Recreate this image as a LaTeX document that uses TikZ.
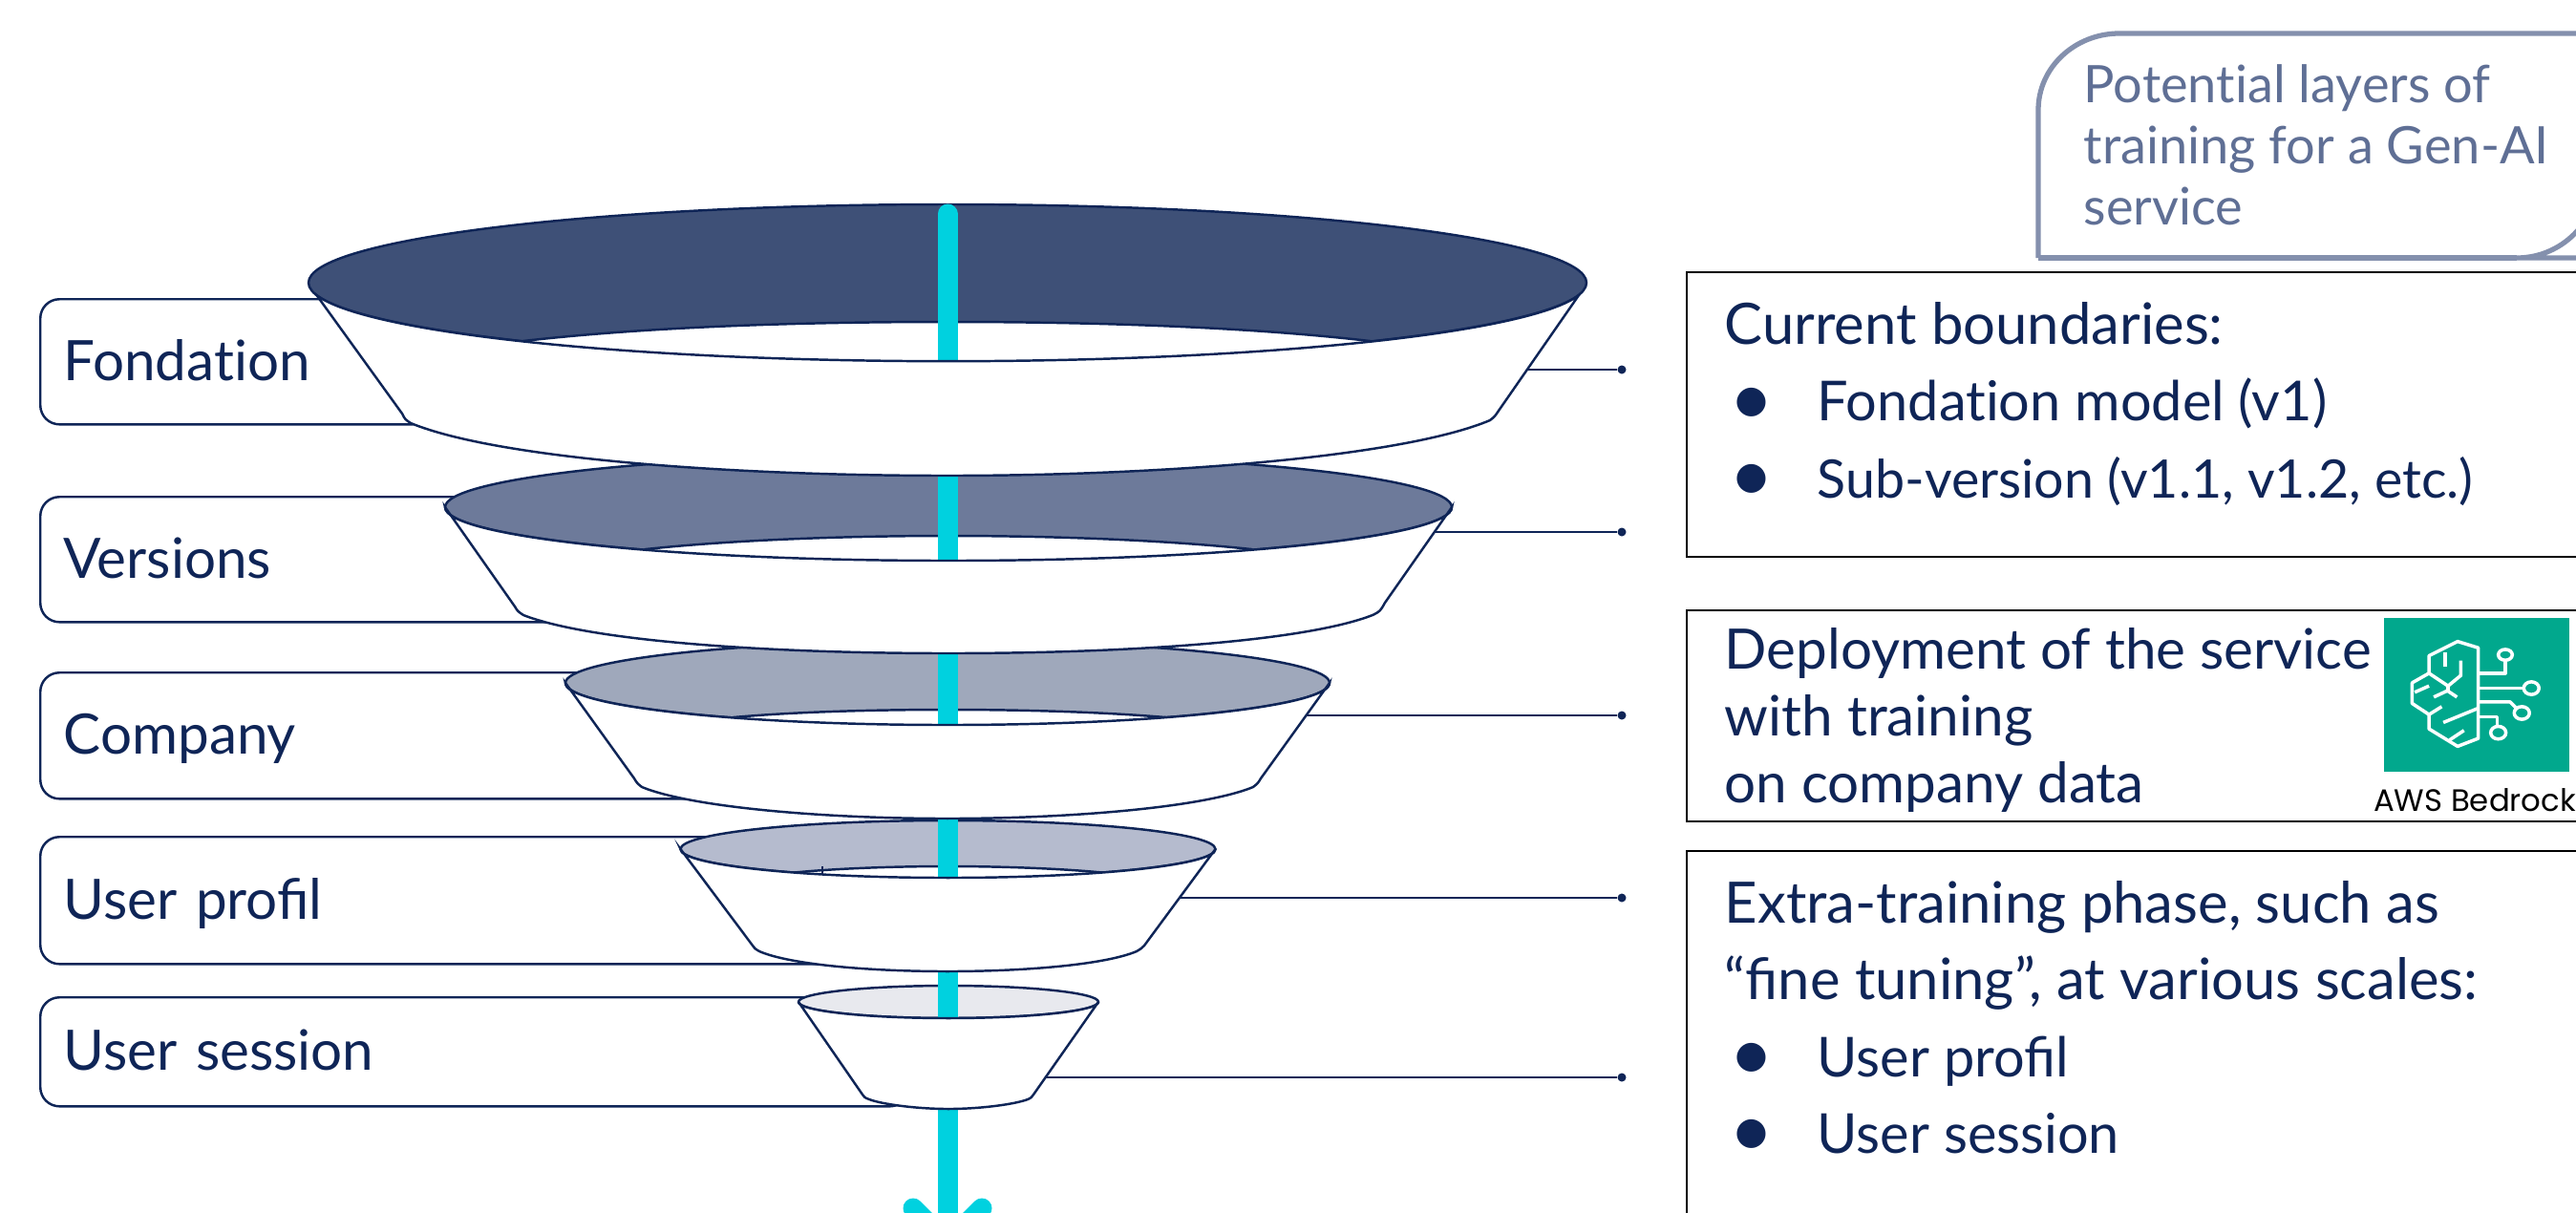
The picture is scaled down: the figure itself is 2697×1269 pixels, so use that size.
\documentclass[tikz,border=0pt]{standalone}
\usepackage{fontspec}
\setmainfont{Lato}
\newfontfamily\awsfont{Poppins}
\definecolor{navy}{HTML}{0F2557}
\definecolor{layerA}{HTML}{3E5077}
\definecolor{layerB}{HTML}{6D7A9A}
\definecolor{layerC}{HTML}{9FA8BB}
\definecolor{layerD}{HTML}{B5BBCE}
\definecolor{layerE}{HTML}{E8E9EE}
\definecolor{flow}{HTML}{00D1DF}
\definecolor{greyline}{HTML}{8490AD}
\definecolor{greytext}{HTML}{5F6F95}
\definecolor{bedrock}{HTML}{01A88D}
\tikzset{
	rim/.style={draw=navy, line width=0.7pt},
	label/.style={draw=navy, line width=0.7pt, rounded corners=0.2cm, anchor=north west, inner sep=0pt, text=navy, align=left, text height=11pt, text depth=0pt, font=\fontsize{16.6}{22.8}\selectfont},
	link/.style={draw=navy, line width=0.7pt},
	dot/.style={circle, fill=navy, inner sep=0pt, minimum size=0.09cm},
	frame/.style={draw=black, line width=0.6pt, anchor=north west, inner sep=0pt},
	words/.style={text=navy, anchor=north west, inner sep=0pt, align=left, font=\fontsize{17}{22.8}\selectfont},
	flowline/.style={draw=flow, line width=0.21cm, line cap=round},
}
\newcommand{\bulletline}[1]{{\fontsize{16.4}{22.8}\selectfont\hspace*{0.05cm}\makebox[0.92cm][l]{\raisebox{-0.045cm}{\fontsize{23}{23}\selectfont\textbullet}}#1}}
\begin{document}
\begin{tikzpicture}[x=0.01cm, y=-0.01cm]
		\useasboundingbox (0,0) rectangle (2697,1269);
		\clip (0,0) rectangle (2697,1269);

		% labels on the left
		\node[label, minimum width=4.09cm, minimum height=1.31cm, text width=3.6cm] (fondation) at (41,312) {Fondat\kern0pt ion};
		\node[label, minimum width=5.79cm, minimum height=1.31cm, text width=5.3cm] (versions) at (41,519) {Versions};
		\node[label, minimum width=7.19cm, minimum height=1.32cm, text width=6.7cm] (company) at (41,703) {Company};
		\node[label, minimum width=8.39cm, minimum height=1.33cm, text width=7.9cm] (profil) at (41,875) {User profil};
		\node[label, minimum width=9.09cm, minimum height=1.14cm, text width=8.6cm] (session) at (41,1043) {User session};

		% open tops
		\filldraw[rim, fill=layerA] (992,296) ellipse [x radius=669, y radius=82];
		\filldraw[rim, fill=layerB] (993,531) ellipse [x radius=527, y radius=56];
		\filldraw[rim, fill=layerC] (992,715) ellipse [x radius=400, y radius=44];
		\filldraw[rim, fill=layerD] (992.5,889) ellipse [x radius=280, y radius=30];
		\filldraw[rim, fill=layerE] (993,1049) ellipse [x radius=157, y radius=17];

		\filldraw[rim, fill=white] (548,357) .. controls (680,342) and (840,337) .. (992,337) .. controls (1144,337) and (1304,342) .. (1434,357) -- (1434,385) -- (548,385) -- cycle;
		\filldraw[rim, fill=white] (676,575) .. controls (770,565) and (890,561) .. (993,561) .. controls (1096,561) and (1216,565) .. (1310,575) -- (1310,595) -- (676,595) -- cycle;
		\filldraw[rim, fill=white] (768,751) .. controls (835,745) and (920,743) .. (992,743) .. controls (1064,743) and (1149,745) .. (1220,751) -- (1220,765) -- (768,765) -- cycle;
		\filldraw[rim, fill=white] (827,914) .. controls (875,909) and (940,907) .. (992,907) .. controls (1044,907) and (1109,909) .. (1159,914) -- (1159,925) -- (827,925) -- cycle;
		\draw[rim] (861,907) -- (861,917);

		% links to the dots
		\node[dot] (dotA) at (1698,387) {};
		\node[dot] (dotB) at (1698,557) {};
		\node[dot] (dotC) at (1698,749) {};
		\node[dot] (dotD) at (1698,940) {};
		\node[dot] (dotE) at (1698,1128) {};
		\coordinate (edgeA) at (1590,387);
		\coordinate (edgeB) at (1498,557);
		\coordinate (edgeC) at (1365,749);
		\coordinate (edgeD) at (1230,940);
		\coordinate (edgeE) at (1090,1128);
		\draw[link] (edgeA) -- (dotA);
		\draw[link] (edgeB) -- (dotB);
		\draw[link] (edgeC) -- (dotC);
		\draw[link] (edgeD) -- (dotD);
		\draw[link] (edgeE) -- (dotE);

		% flow through the funnel
		\coordinate (flowtop) at (992,224);
		\coordinate (flowtip) at (992,1301);
		\coordinate (barbL) at (956,1265);
		\coordinate (barbR) at (1028,1265);
		\draw[flowline] (flowtop) -- (flowtip);
		\draw[flowline] (barbL) -- (flowtip) -- (barbR);

		% funnel bodies
		\filldraw[rim, fill=white] (1653,309) arc[start angle=9, end angle=171, x radius=669, y radius=82] -- (421,433) .. controls (424,439) .. (430,443) .. controls (520,480) and (762,498) .. (992,498) .. controls (1222,498) and (1470,478) .. (1560,440) .. controls (1565,436) .. (1569,430) -- cycle;
		\filldraw[rim, fill=white] (1520,531) arc[start angle=0, end angle=180, x radius=527, y radius=56] -- (539,635) .. controls (542,640) .. (548,644) .. controls (620,672) and (810,684) .. (993,684) .. controls (1176,684) and (1365,672) .. (1437,644) .. controls (1445,640) .. (1450,631) -- cycle;
		\filldraw[rim, fill=white] (1392,715) arc[start angle=0, end angle=180, x radius=400, y radius=44] -- (664,815) .. controls (667,820) .. (672,824) .. controls (723,845) and (861,857) .. (992,857) .. controls (1123,857) and (1261,845) .. (1312,824) .. controls (1317,820) .. (1320,815) -- cycle;
		\filldraw[rim, fill=white] (1272.5,889) arc[start angle=0, end angle=180, x radius=280, y radius=30] -- (788,990) .. controls (790,993) .. (795,996) .. controls (827,1010) and (911,1017) .. (992,1017) .. controls (1073,1017) and (1157,1010) .. (1190,996) .. controls (1195,993) .. (1198,990) -- cycle;
		\filldraw[rim, fill=white] (1150,1049) arc[start angle=0, end angle=180, x radius=157, y radius=17] -- (903,1146) .. controls (905,1149) .. (910,1151) .. controls (923,1156) and (959,1161) .. (993,1161) .. controls (1027,1161) and (1063,1156) .. (1076,1151) .. controls (1080,1149) .. (1082,1146) -- cycle;

		% title box
		\draw[draw=greyline, line width=1.5pt] (2760,270) -- (2635,270) arc[start angle=90, end angle=0, radius=85] (2134,270) -- (2134,115) arc[start angle=180, end angle=270, x radius=85, y radius=80] -- (2760,35);
		\draw[draw=greyline, line width=1.5pt] (2134,270) -- (2635,270);
		\node[words, text=greytext, font=\fontsize{15.4}{18.2}\selectfont] (title) at (2181,67) {Potent\kern0pt ial layers of\\training for a Gen-AI\\service};

		% boxes on the right
		\node[frame, minimum width=11cm, minimum height=2.98cm] (boundbox) at (1765,284) {};
		\node[words] (boundtext) at (1805,316) {Current boundaries:\\\bulletline{Fondat\kern0pt ion model (v1)}\\\bulletline{\fontsize{15.8}{22.8}\selectfont Sub-version (v1.1, v1.2, etc.)}};
		\node[frame, minimum width=11cm, minimum height=2.21cm] (deploybox) at (1765,638) {};
		\node[words, font=\fontsize{16.6}{19.9}\selectfont] (deploytext) at (1805,657) {Deployment of the service\\with training\\on company data};
		\node[frame, minimum width=11cm, minimum height=5cm] (extrabox) at (1765,890) {};
		\node[words] (extratext) at (1805,922) {Extra-training phase, such as\\“fine tuning”, at various scales:\\\bulletline{User profil}\\\bulletline{User session}};

		% bedrock icon
		\node[fill=bedrock, anchor=north west, inner sep=0pt, minimum width=1.94cm, minimum height=1.61cm] (icon) at (2495,646) {};
		\node[anchor=base, inner sep=0pt, font=\awsfont\fontsize{9.2}{11}\selectfont] (iconname) at (2591,849) {AWS Bedrock};
		\begin{scope}[shift={(2380,620)}, x=0.00333cm, y=-0.00333cm, draw=white, line width=1pt, line join=round]
			\draw (645,175) -- (580,155) -- (490,200) -- (490,255) -- (437,285) -- (437,350) -- (490,385) -- (490,430) -- (580,485) -- (645,460) -- cycle;
			\draw (540,190) -- (540,235);
			\draw (590,215) -- (590,262) -- (550,295) -- (490,255);
			\draw (550,295) -- (550,310);
			\draw (505,330) -- (548,310) -- (578,330);
			\draw (445,315) -- (490,295);
			\draw (490,385) -- (530,360);
			\draw (535,410) -- (645,365);
			\draw (555,465) -- (600,435);
			\draw (645,255) -- (730,255) -- (730,215);
			\draw (730,197) ellipse [x radius=22, y radius=17];
			\draw (645,302) -- (788,302);
			\draw (812,302) ellipse [x radius=24, y radius=20];
			\draw (645,345) -- (745,345) -- (765,365);
			\draw (782,380) ellipse [x radius=24, y radius=20];
			\draw (645,392) -- (705,392) -- (705,425);
			\draw (708,442) ellipse [x radius=24, y radius=20];
		\end{scope}
	\end{tikzpicture}
\end{document}
